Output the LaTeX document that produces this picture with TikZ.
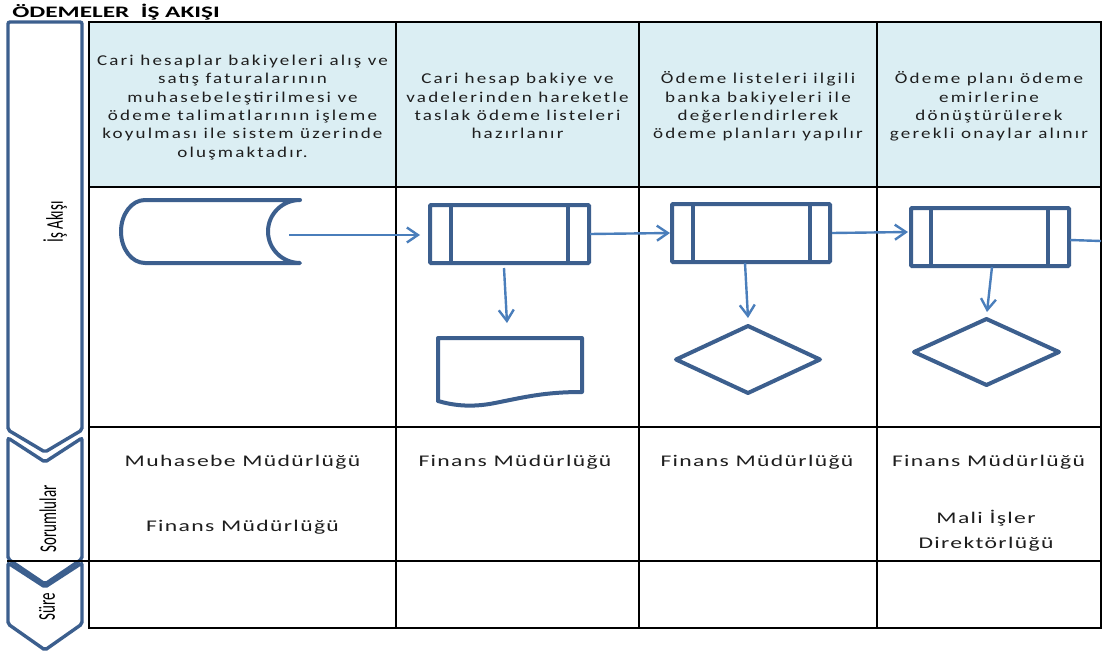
\documentclass[tikz,border=0pt]{standalone}
\usepackage{fontspec}
\setmainfont{Carlito}
\newfontfamily\spacedfont[LetterSpace=11.5]{Carlito}
\newfontfamily\unitfont[LetterSpace=5.7]{Carlito}
\usetikzlibrary{shapes.geometric,arrows.meta,calc}

\definecolor{shapeblue}{RGB}{60,95,142}
\definecolor{arrowblue}{RGB}{74,126,187}
\definecolor{headfill}{RGB}{219,238,243}
\definecolor{textgray}{RGB}{30,30,30}

\tikzset{
  grid/.style={line width=1.6pt, draw=black},
  lane/.style={draw=shapeblue, line width=3.4pt, fill=white, rounded corners=2pt},
  procbox/.style={draw=shapeblue, line width=4pt, rounded corners=1pt, fill=white,
    minimum width=159pt, minimum height=58pt, inner sep=0pt, outer sep=0pt},
  procbar/.style={draw=shapeblue, line width=4pt},
  outline/.style={draw=shapeblue, line width=4pt, line join=round, line cap=round},
  ghost/.style={inner sep=0pt, outer sep=0pt},
  decision/.style={diamond, draw=shapeblue, line width=4pt, line join=round,
    minimum width=144pt, minimum height=67pt, inner sep=0pt, outer sep=0pt},
  flow/.style={draw=arrowblue, line width=2.4pt,
    -{Straight Barb[length=11pt,width=15pt]}},
  plainflow/.style={draw=arrowblue, line width=2.4pt},
  headtxt/.style={font=\spacedfont\fontsize{15}{18.3}\selectfont, text=textgray, align=center,
    xscale=1.27, inner sep=0pt},
  resptxt/.style={font=\unitfont\fontsize{16.3}{25}\selectfont, text=textgray, align=center,
    xscale=1.45, inner sep=0pt},
  lanetxt/.style={font=\fontsize{15}{18}\selectfont, text=black, xscale=1.6, rotate=90,
    inner sep=0pt},
  titletxt/.style={font=\fontsize{16}{18}\selectfont\bfseries, text=black, xscale=1.58,
    inner sep=0pt, anchor=west}
}

\begin{document}
\begin{tikzpicture}[x=1pt, y=-1pt]
  \useasboundingbox (0,0) rectangle (1103,653);
  \fill[white] (0,0) rectangle (1103,653);

  % title
  \node[titletxt] (title) at (12,12.5) {ÖDEMELER\ \ İŞ AKIŞI};

  % header band
  \fill[headfill] (89,22) rectangle (1101,187);

  % lane chevrons on the left
  \draw[lane] (8,22) -- (82,22) -- (82,430) -- (45,452) -- (8,430) -- cycle;
  \draw[lane] (8,438) -- (45,462) -- (82,438) -- (82,559) -- (45,584) -- (8,559) -- cycle;
  \draw[lane] (8,563) -- (45,587) -- (82,563) -- (82,624) -- (45,650) -- (8,624) -- cycle;

  \node[lanetxt] (laneflow) at (55,222) {İş Akışı};
  \node[lanetxt] (laneresp) at (48,519) {Sorumlular};
  \node[lanetxt] (lanetime) at (47,607) {Süre};

  % table grid
  \draw[grid] (89,22) rectangle (1101,628);
  \draw[grid] (89,187) -- (1101,187);
  \draw[grid] (89,427) -- (1101,427);
  \draw[grid] (7,561) -- (1101,561);
  \foreach \cx in {396,639,877} \draw[grid] (\cx,22) -- (\cx,628);

  % header texts
  \node[headtxt] (h1) at (242.5,107.5) {Cari hesaplar bakiyeleri alış ve\\satış faturalarının\\muhasebeleştirilmesi ve\\ödeme talimatlarının işleme\\koyulması ile sistem üzerinde\\oluşmaktadır.};
  \node[headtxt] (h2) at (517.5,106) {Cari hesap bakiye ve\\vadelerinden hareketle\\taslak ödeme listeleri\\hazırlanır};
  \node[headtxt] (h3) at (758,106.5) {Ödeme listeleri ilgili\\banka bakiyeleri ile\\değerlendirlerek\\ödeme planları yapılır};
  \node[headtxt] (h4) at (989,106.5) {Ödeme planı ödeme\\emirlerine\\dönüştürülerek\\gerekli onaylar alınır};

  % responsible units
  \node[resptxt] (r1a) at (242.5,462) {Muhasebe Müdürlüğü};
  \node[resptxt] (r1b) at (242.5,527) {Finans Müdürlüğü};
  \node[resptxt] (r2) at (515,462) {Finans Müdürlüğü};
  \node[resptxt] (r3) at (757,462) {Finans Müdürlüğü};
  \node[resptxt] (r4a) at (988.5,462) {Finans Müdürlüğü};
  \node[resptxt] (r4b) at (986,530.5) {Mali İşler\\Direktörlüğü};

  % stored data symbol
  \node[ghost, minimum width=179pt, minimum height=63pt] (store) at (210.5,231.5) {};
  \draw[outline] (300,200) -- (145,200)
     .. controls (131.7,200) and (121,214.1) .. (121,231.5)
     .. controls (121,248.9) and (131.7,263) .. (145,263)
     -- (300,263)
     .. controls (282.3,263) and (268,248.9) .. (268,231.5)
     .. controls (268,214.1) and (282.3,200) .. (300,200);

  % predefined process boxes
  \node[procbox] (p1) at (509.5,234) {};
  \draw[procbar] ($(p1.north west)+(21,0)$) -- ($(p1.south west)+(21,0)$);
  \draw[procbar] ($(p1.north east)+(-21,0)$) -- ($(p1.south east)+(-21,0)$);

  \node[procbox, minimum width=158pt] (p2) at (751,233) {};
  \draw[procbar] ($(p2.north west)+(21,0)$) -- ($(p2.south west)+(21,0)$);
  \draw[procbar] ($(p2.north east)+(-20,0)$) -- ($(p2.south east)+(-20,0)$);

  \node[procbox, minimum width=158pt] (p3) at (990,237) {};
  \draw[procbar] ($(p3.north west)+(20,0)$) -- ($(p3.south west)+(20,0)$);
  \draw[procbar] ($(p3.north east)+(-21,0)$) -- ($(p3.south east)+(-21,0)$);

  % document symbol
  \node[ghost, minimum width=144pt, minimum height=64pt] (doc) at (510,370) {};
  \draw[outline] (438,401) -- (438,338) -- (582,338) -- (582,392)
     .. controls (545,392) and (525,397) .. (495,403)
     .. controls (470,408) and (452,405) .. (438,401);

  % decisions
  \node[decision] (d1) at (748,359.5) {};
  \node[decision, minimum width=145pt, minimum height=66pt] (d2) at (986.5,352) {};

  % connectors
  \coordinate (exit) at (1101,241);
  \draw[flow] ($(store.east)+(-11,3.5)$) -- ($(p1.west)+(-10,1)$);
  \draw[flow] ($(p1.east)+(1,0)$) -- ($(p2.west)+(-2,0)$);
  \draw[flow] ($(p1.south)+(-5.5,5)$) -- ($(doc.north)+(-3,-15)$);
  \draw[flow] ($(p2.south)+(-6,1)$) -- ($(d1.north)+(0,-8)$);
  \draw[flow] ($(p2.east)+(2,0)$) -- ($(p3.west)+(-3,-5)$);
  \draw[flow] ($(p3.south)+(2,1)$) -- ($(d2.north)+(0.5,-7)$);
  \draw[plainflow] ($(p3.east)+(1,3)$) -- (exit);
\end{tikzpicture}
\end{document}
